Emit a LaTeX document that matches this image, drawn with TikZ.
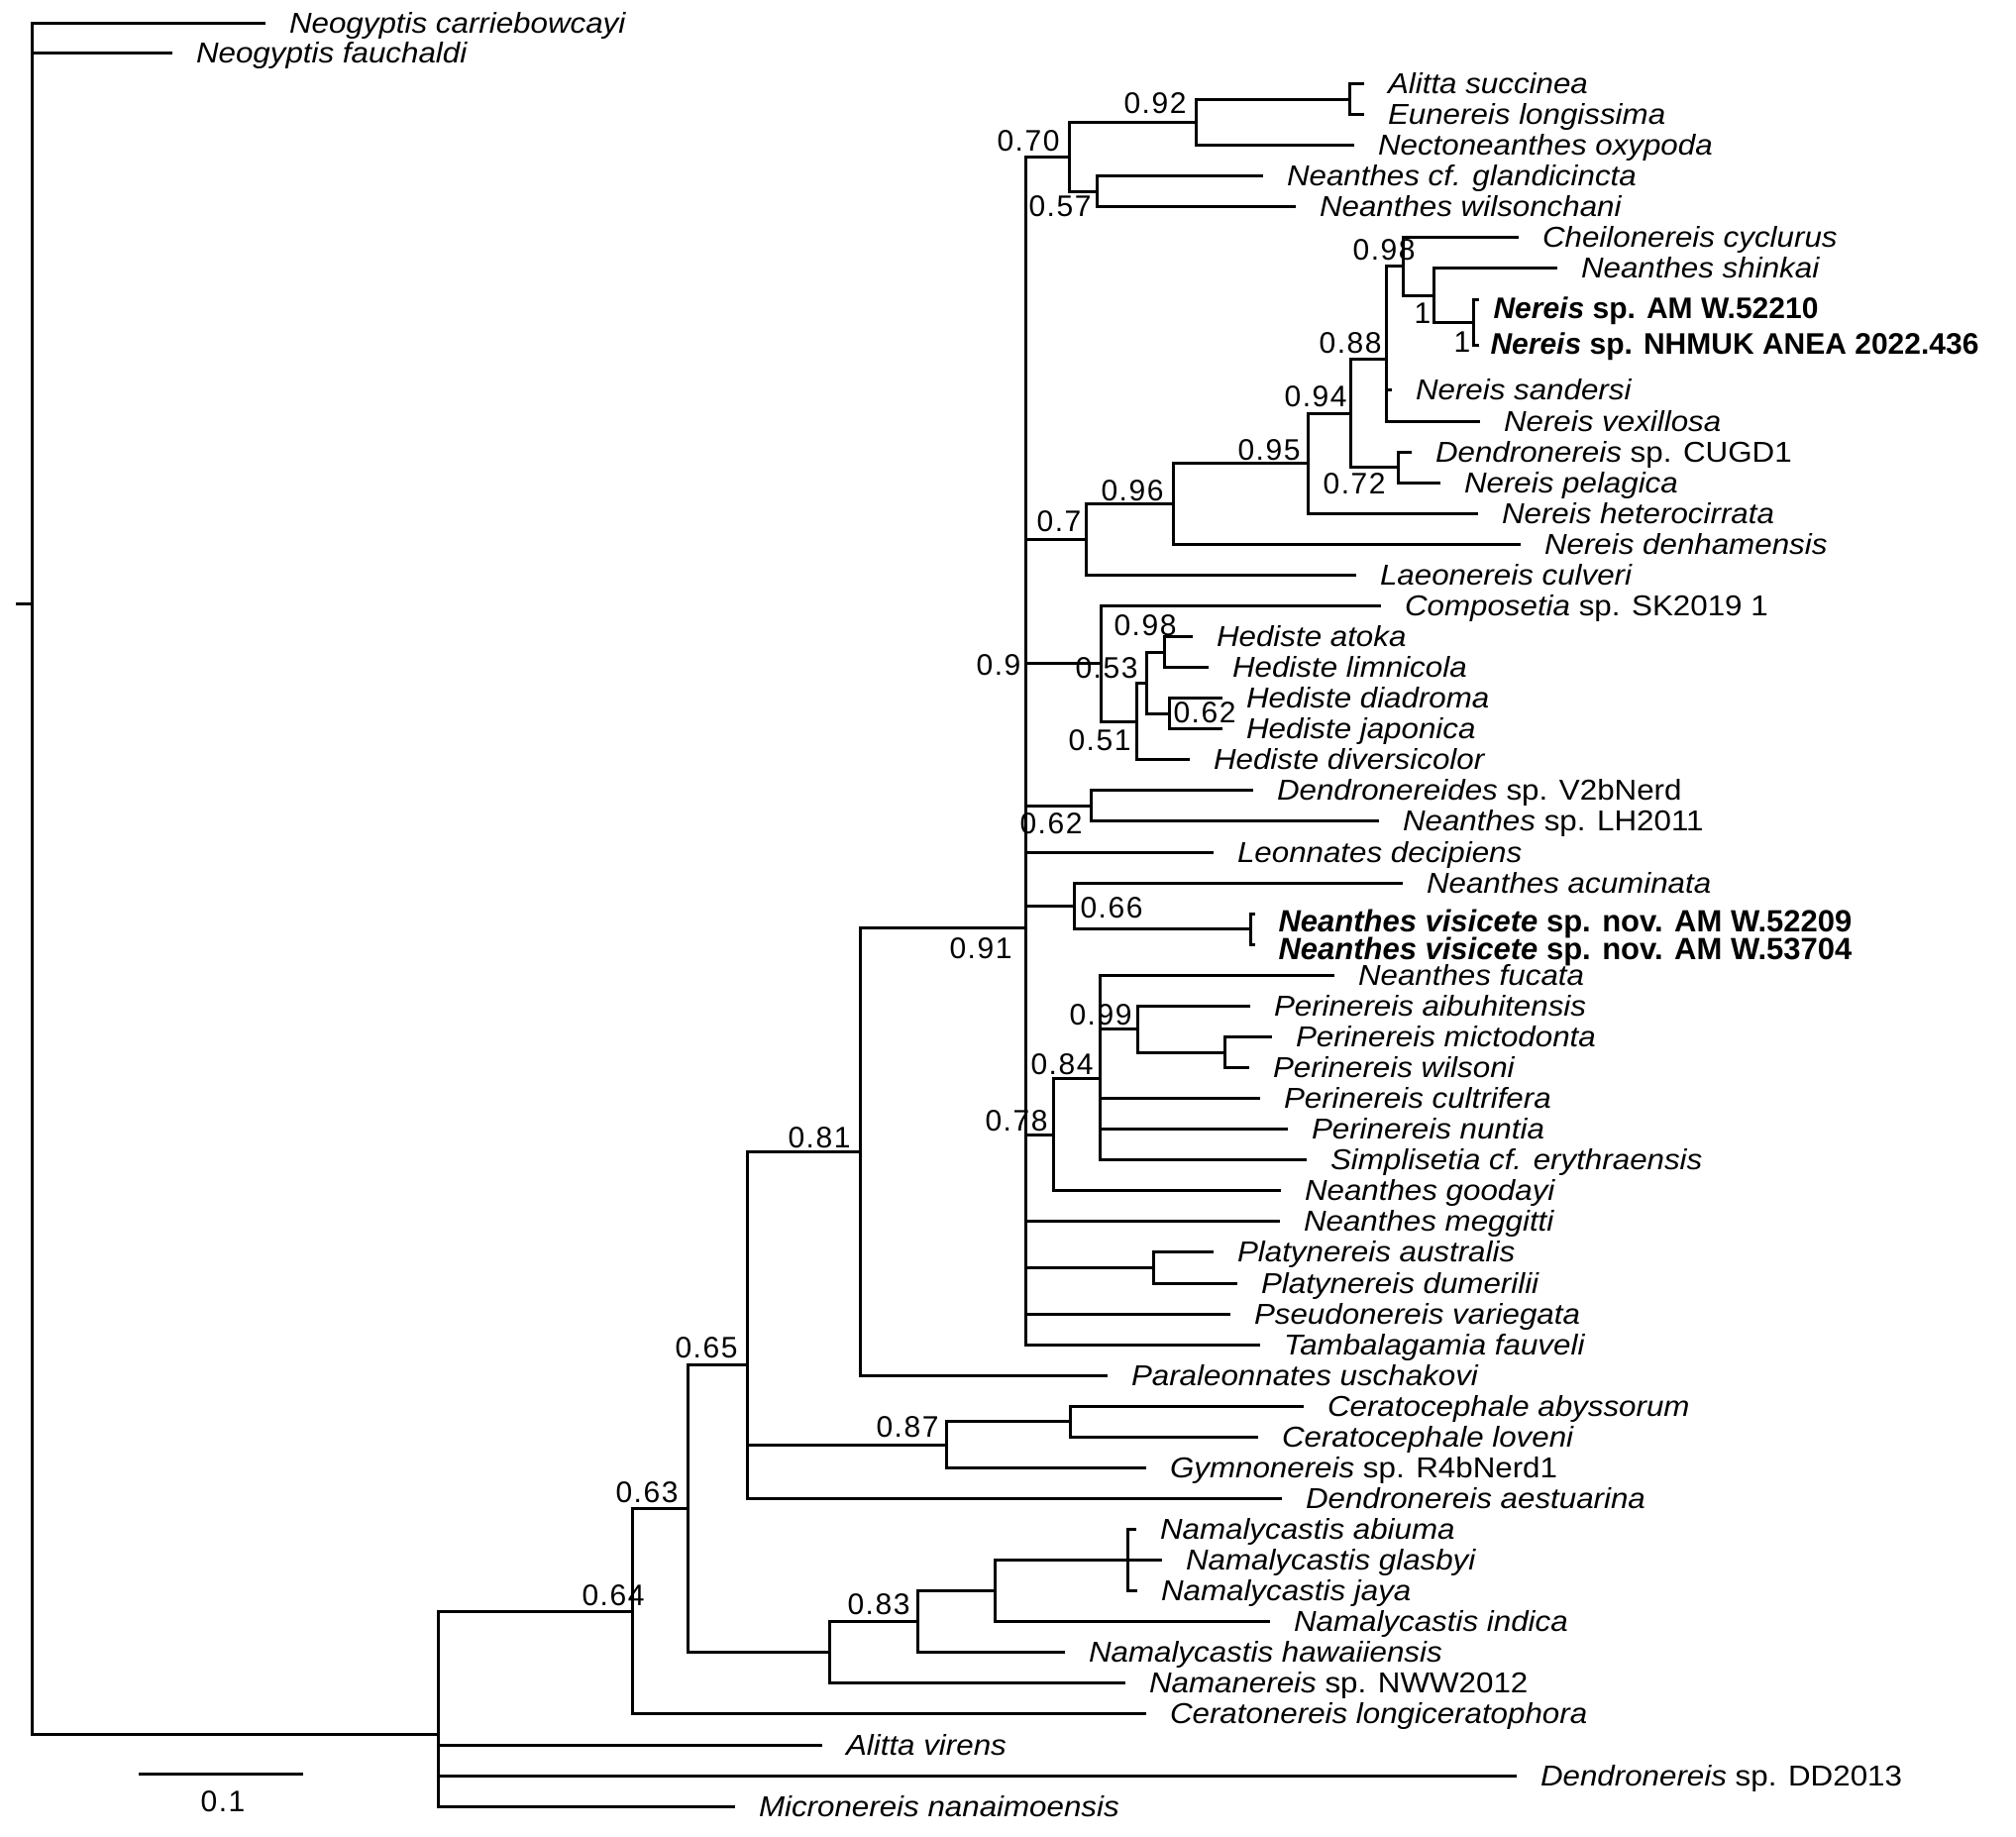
\documentclass[tikz,border=0pt]{standalone}
\usepackage{fontspec}
\setmainfont{Liberation Sans}
\newfontfamily\leaffont{Liberation Sans}[FakeStretch=1.08]
\newcommand\tcpt[3]{\pgfmathsetmacro\myrx{round(#2)+0.5}\pgfmathsetmacro\myry{round(#3)+0.5}\coordinate (#1) at (\myrx,\myry);}
\begin{document}
\begin{tikzpicture}[x=1pt,y=-1pt,line width=3pt,line cap=rect,
  leaf/.style={anchor=base west,inner sep=0pt,xshift=24pt,yshift=-10pt,font=\leaffont\fontsize{29}{35}\selectfont\itshape},
  boldleaf/.style={anchor=base west,inner sep=0pt,yshift=-10.3pt,font=\fontsize{30}{36}\selectfont\bfseries},
  sup/.style={anchor=center,inner sep=0pt,font=\fontsize{30}{36}\selectfont\addfontfeatures{LetterSpace=5}}]
\useasboundingbox (0,0) rectangle (2035,1854);
% ---------- leaves ----------
\tcpt{t1}{266}{22.5}
\tcpt{t2}{172}{53}
\tcpt{t3}{1375}{84}
\tcpt{t4}{1375}{115}
\tcpt{t5}{1365}{146}
\tcpt{t6}{1273}{177}
\tcpt{t7}{1306}{208}
\tcpt{t8}{1531}{239}
\tcpt{t9}{1570}{270}
\tcpt{t10}{1491}{302}
\tcpt{t11}{1491}{348}
\tcpt{t12}{1403}{393}
\tcpt{t13}{1492}{424.5}
\tcpt{t14}{1423}{455.6}
\tcpt{t15}{1452}{486.6}
\tcpt{t16}{1490}{517.7}
\tcpt{t17}{1533}{548.8}
\tcpt{t18}{1367}{579.9}
\tcpt{t19}{1392}{610.9}
\tcpt{t20}{1202}{642.0}
\tcpt{t21}{1218}{673.1}
\tcpt{t22}{1232}{704.1}
\tcpt{t23}{1232}{735.2}
\tcpt{t24}{1199}{766.3}
\tcpt{t25}{1263}{797.3}
\tcpt{t26}{1390}{828.4}
\tcpt{t27}{1223}{859.5}
\tcpt{t28}{1414}{890.6}
\tcpt{t29}{1265}{921.6}
\tcpt{t30}{1265}{952.7}
\tcpt{t31}{1345}{983.8}
\tcpt{t32}{1260}{1014.8}
\tcpt{t33}{1282}{1045.9}
\tcpt{t34}{1259}{1077.0}
\tcpt{t35}{1270}{1108.0}
\tcpt{t36}{1298}{1139.1}
\tcpt{t37}{1317}{1170.2}
\tcpt{t38}{1291}{1201.3}
\tcpt{t39}{1290}{1232.3}
\tcpt{t40}{1223}{1263.4}
\tcpt{t41}{1247}{1294.5}
\tcpt{t42}{1240}{1325.5}
\tcpt{t43}{1270}{1356.6}
\tcpt{t44}{1116}{1387.7}
\tcpt{t45}{1314}{1418.7}
\tcpt{t46}{1268}{1449.8}
\tcpt{t47}{1155}{1480.9}
\tcpt{t48}{1292}{1512.0}
\tcpt{t49}{1145}{1543.0}
\tcpt{t50}{1171}{1574.1}
\tcpt{t51}{1146}{1605.2}
\tcpt{t52}{1280}{1636.2}
\tcpt{t53}{1073}{1667.3}
\tcpt{t54}{1134}{1698.4}
\tcpt{t55}{1155}{1729.4}
\tcpt{t56}{828}{1760.5}
\tcpt{t57}{1529}{1791.6}
\tcpt{t58}{740}{1822.7}
% ---------- internal nodes ----------
\tcpt{root0}{17}{608.6}
\tcpt{root}{32}{608.6}
\tcpt{nA}{442}{1750.2}
\tcpt{n064}{638}{1625.8}
\tcpt{n063}{694}{1522.2}
\tcpt{nNam}{837}{1667.3}
\tcpt{n083}{926}{1636.3}
\tcpt{nN4}{1004}{1605.2}
\tcpt{nABGJ}{1138}{1574.1}
\tcpt{n065}{754}{1377.1}
\tcpt{n087}{955}{1457.6}
\tcpt{nCer}{1080}{1434.3}
\tcpt{n081}{868}{1161.8}
\tcpt{n091}{1035}{935.9}
\tcpt{n070}{1079}{157.6}
\tcpt{n092}{1207}{122.75}
\tcpt{nAE}{1362}{99.5}
\tcpt{n057}{1107}{192.5}
\tcpt{n07}{1096}{544}
\tcpt{n096}{1184}{508}
\tcpt{n095}{1320}{467.1}
\tcpt{n094}{1363}{416.5}
\tcpt{n088}{1399}{361.8}
\tcpt{n098}{1416}{268}
\tcpt{n1}{1447}{297.5}
\tcpt{nAMN}{1487}{325}
\tcpt{n072}{1411}{471.1}
\tcpt{n09}{1111}{669.2}
\tcpt{n051}{1147}{727.5}
\tcpt{n053}{1157}{688.6}
\tcpt{nHat}{1175}{657.6}
\tcpt{n062h}{1180}{719.7}
\tcpt{n062d}{1101}{812.9}
\tcpt{n066}{1084}{913.9}
\tcpt{nVis}{1262}{937.2}
\tcpt{n078}{1063}{1144.6}
\tcpt{n084}{1110}{1087.9}
\tcpt{n099}{1148}{1038.2}
\tcpt{nMW}{1236}{1061.5}
\tcpt{nPlaty}{1164}{1279}
% ---------- branches ----------
\draw (root0) -- (root);
\foreach \p/\c in {root/t1,root/t2,root/nA,
  nA/n064,nA/t56,nA/t57,nA/t58,
  n064/n063,n064/t55,
  n063/n065,n063/nNam,
  nNam/n083,nNam/t54,
  n083/nN4,n083/t53,
  nN4/nABGJ,nN4/t52,
  nABGJ/t49,nABGJ/t50,nABGJ/t51,
  n065/n081,n065/n087,n065/t48,
  n087/nCer,n087/t47,
  nCer/t45,nCer/t46,
  n081/n091,n081/t44,
  n091/n070,n091/n07,n091/n09,n091/n062d,n091/t27,n091/n066,n091/n078,n091/t39,n091/nPlaty,n091/t42,n091/t43,
  n070/n092,n070/n057,
  n092/nAE,n092/t5,
  nAE/t3,nAE/t4,
  n057/t6,n057/t7,
  n07/n096,n07/t18,
  n096/n095,n096/t17,
  n095/n094,n095/t16,
  n094/n088,n094/n072,
  n088/n098,n088/t12,n088/t13,
  n098/t8,n098/n1,
  n1/t9,n1/nAMN,
  nAMN/t10,nAMN/t11,
  n072/t14,n072/t15,
  n09/t19,n09/n051,
  n051/n053,n051/t24,
  n053/nHat,n053/n062h,
  nHat/t20,nHat/t21,
  n062h/t22,n062h/t23,
  n062d/t25,n062d/t26,
  n066/t28,n066/nVis,
  nVis/t29,nVis/t30,
  n078/n084,n078/t38,
  n084/t31,n084/n099,n084/t35,n084/t36,n084/t37,
  n099/t32,n099/nMW,
  nMW/t33,nMW/t34,
  nPlaty/t40,nPlaty/t41}
  \draw (\p) |- (\c);
% ---------- leaf labels ----------
\node[leaf] (L1) at (t1) {Neogyptis carriebowcayi};
\node[leaf] (L2) at (t2) {Neogyptis fauchaldi};
\node[leaf] (L3) at (t3) {Alitta succinea};
\node[leaf] (L4) at (t4) {Eunereis longissima};
\node[leaf] (L5) at (t5) {Nectoneanthes oxypoda};
\node[leaf] (L6) at (t6) {Neanthes cf. glandicincta};
\node[leaf] (L7) at (t7) {Neanthes wilsonchani};
\node[leaf] (L8) at (t8) {Cheilonereis cyclurus};
\node[leaf] (L9) at (t9) {Neanthes shinkai};
\node[boldleaf] (L10) at (1506,311) {\itshape Nereis\upshape\ sp. AM W.52210};
\node[boldleaf] (L11) at (1503,347) {\itshape Nereis\upshape\ sp. NHMUK ANEA 2022.436};
\node[leaf] (L12) at (t12) {Nereis sandersi};
\node[leaf] (L13) at (t13) {Nereis vexillosa};
\node[leaf] (L14) at (t14) {Dendronereis \upshape sp. CUGD1};
\node[leaf] (L15) at (t15) {Nereis pelagica};
\node[leaf] (L16) at (t16) {Nereis heterocirrata};
\node[leaf] (L17) at (t17) {Nereis denhamensis};
\node[leaf] (L18) at (t18) {Laeonereis culveri};
\node[leaf] (L19) at (t19) {Composetia \upshape sp. SK2019 1};
\node[leaf] (L20) at (t20) {Hediste atoka};
\node[leaf] (L21) at (t21) {Hediste limnicola};
\node[leaf] (L22) at (t22) {Hediste diadroma};
\node[leaf] (L23) at (t23) {Hediste japonica};
\node[leaf] (L24) at (t24) {Hediste diversicolor};
\node[leaf] (L25) at (t25) {Dendronereides \upshape sp. V2bNerd};
\node[leaf] (L26) at (t26) {Neanthes \upshape sp. LH2011};
\node[leaf] (L27) at (t27) {Leonnates decipiens};
\node[leaf] (L28) at (t28) {Neanthes acuminata};
\node[boldleaf,font=\fontsize{31}{37}\selectfont\bfseries] (L29) at (1289,930) {\itshape Neanthes visicete\upshape\ sp. nov. AM W.52209};
\node[boldleaf,font=\fontsize{31}{37}\selectfont\bfseries] (L30) at (1289,958) {\itshape Neanthes visicete\upshape\ sp. nov. AM W.53704};
\node[leaf] (L31) at (t31) {Neanthes fucata};
\node[leaf] (L32) at (t32) {Perinereis aibuhitensis};
\node[leaf] (L33) at (t33) {Perinereis mictodonta};
\node[leaf] (L34) at (t34) {Perinereis wilsoni};
\node[leaf] (L35) at (t35) {Perinereis cultrifera};
\node[leaf] (L36) at (t36) {Perinereis nuntia};
\node[leaf] (L37) at (t37) {Simplisetia cf. erythraensis};
\node[leaf] (L38) at (t38) {Neanthes goodayi};
\node[leaf] (L39) at (t39) {Neanthes meggitti};
\node[leaf] (L40) at (t40) {Platynereis australis};
\node[leaf] (L41) at (t41) {Platynereis dumerilii};
\node[leaf] (L42) at (t42) {Pseudonereis variegata};
\node[leaf] (L43) at (t43) {Tambalagamia fauveli};
\node[leaf] (L44) at (t44) {Paraleonnates uschakovi};
\node[leaf] (L45) at (t45) {Ceratocephale abyssorum};
\node[leaf] (L46) at (t46) {Ceratocephale loveni};
\node[leaf] (L47) at (t47) {Gymnonereis \upshape sp. R4bNerd1};
\node[leaf] (L48) at (t48) {Dendronereis aestuarina};
\node[leaf] (L49) at (t49) {Namalycastis abiuma};
\node[leaf] (L50) at (t50) {Namalycastis glasbyi};
\node[leaf] (L51) at (t51) {Namalycastis jaya};
\node[leaf] (L52) at (t52) {Namalycastis indica};
\node[leaf] (L53) at (t53) {Namalycastis hawaiiensis};
\node[leaf] (L54) at (t54) {Namanereis \upshape sp. NWW2012};
\node[leaf] (L55) at (t55) {Ceratonereis longiceratophora};
\node[leaf] (L56) at (t56) {Alitta virens};
\node[leaf] (L57) at (t57) {Dendronereis \upshape sp. DD2013};
\node[leaf] (L58) at (t58) {Micronereis nanaimoensis};
% ---------- support values ----------
\node[sup] (s070) at (1038,142) {0.70};
\node[sup] (s092) at (1166,104) {0.92};
\node[sup] (s057) at (1070,208.5) {0.57};
\node[sup] (s098a) at (1397,252.5) {0.98};
\node[sup] (s1a) at (1436,316) {1};
\node[sup] (s1b) at (1476,345) {1};
\node[sup] (s088) at (1363,346) {0.88};
\node[sup] (s094) at (1328,400) {0.94};
\node[sup] (s095) at (1281,454) {0.95};
\node[sup] (s072) at (1367,488) {0.72};
\node[sup] (s096) at (1143,495) {0.96};
\node[sup] (s07) at (1069,526) {0.7};
\node[sup] (s098b) at (1156,631) {0.98};
\node[sup] (s053) at (1117,674) {0.53};
\node[sup] (s09) at (1008,671) {0.9};
\node[sup] (s062a) at (1216,719.5) {0.62};
\node[sup] (s051) at (1110,747.5) {0.51};
\node[sup] (s062b) at (1061,831) {0.62};
\node[sup] (s066) at (1122,916) {0.66};
\node[sup] (s091) at (990,957) {0.91};
\node[sup] (s099) at (1111,1024) {0.99};
\node[sup] (s084) at (1072,1074) {0.84};
\node[sup] (s078) at (1026,1131) {0.78};
\node[sup] (s081) at (827,1148) {0.81};
\node[sup] (s065) at (713,1360) {0.65};
\node[sup] (s087) at (916,1440) {0.87};
\node[sup] (s063) at (653,1506) {0.63};
\node[sup] (s083) at (887,1619) {0.83};
\node[sup] (s064) at (619,1610) {0.64};
% ---------- scale bar ----------
\tcpt{sb1}{141}{1790}
\tcpt{sb2}{304}{1790}
\draw (sb1) -- (sb2);
\node[sup] (sbl) at (225,1818) {0.1};
\end{tikzpicture}
\end{document}
